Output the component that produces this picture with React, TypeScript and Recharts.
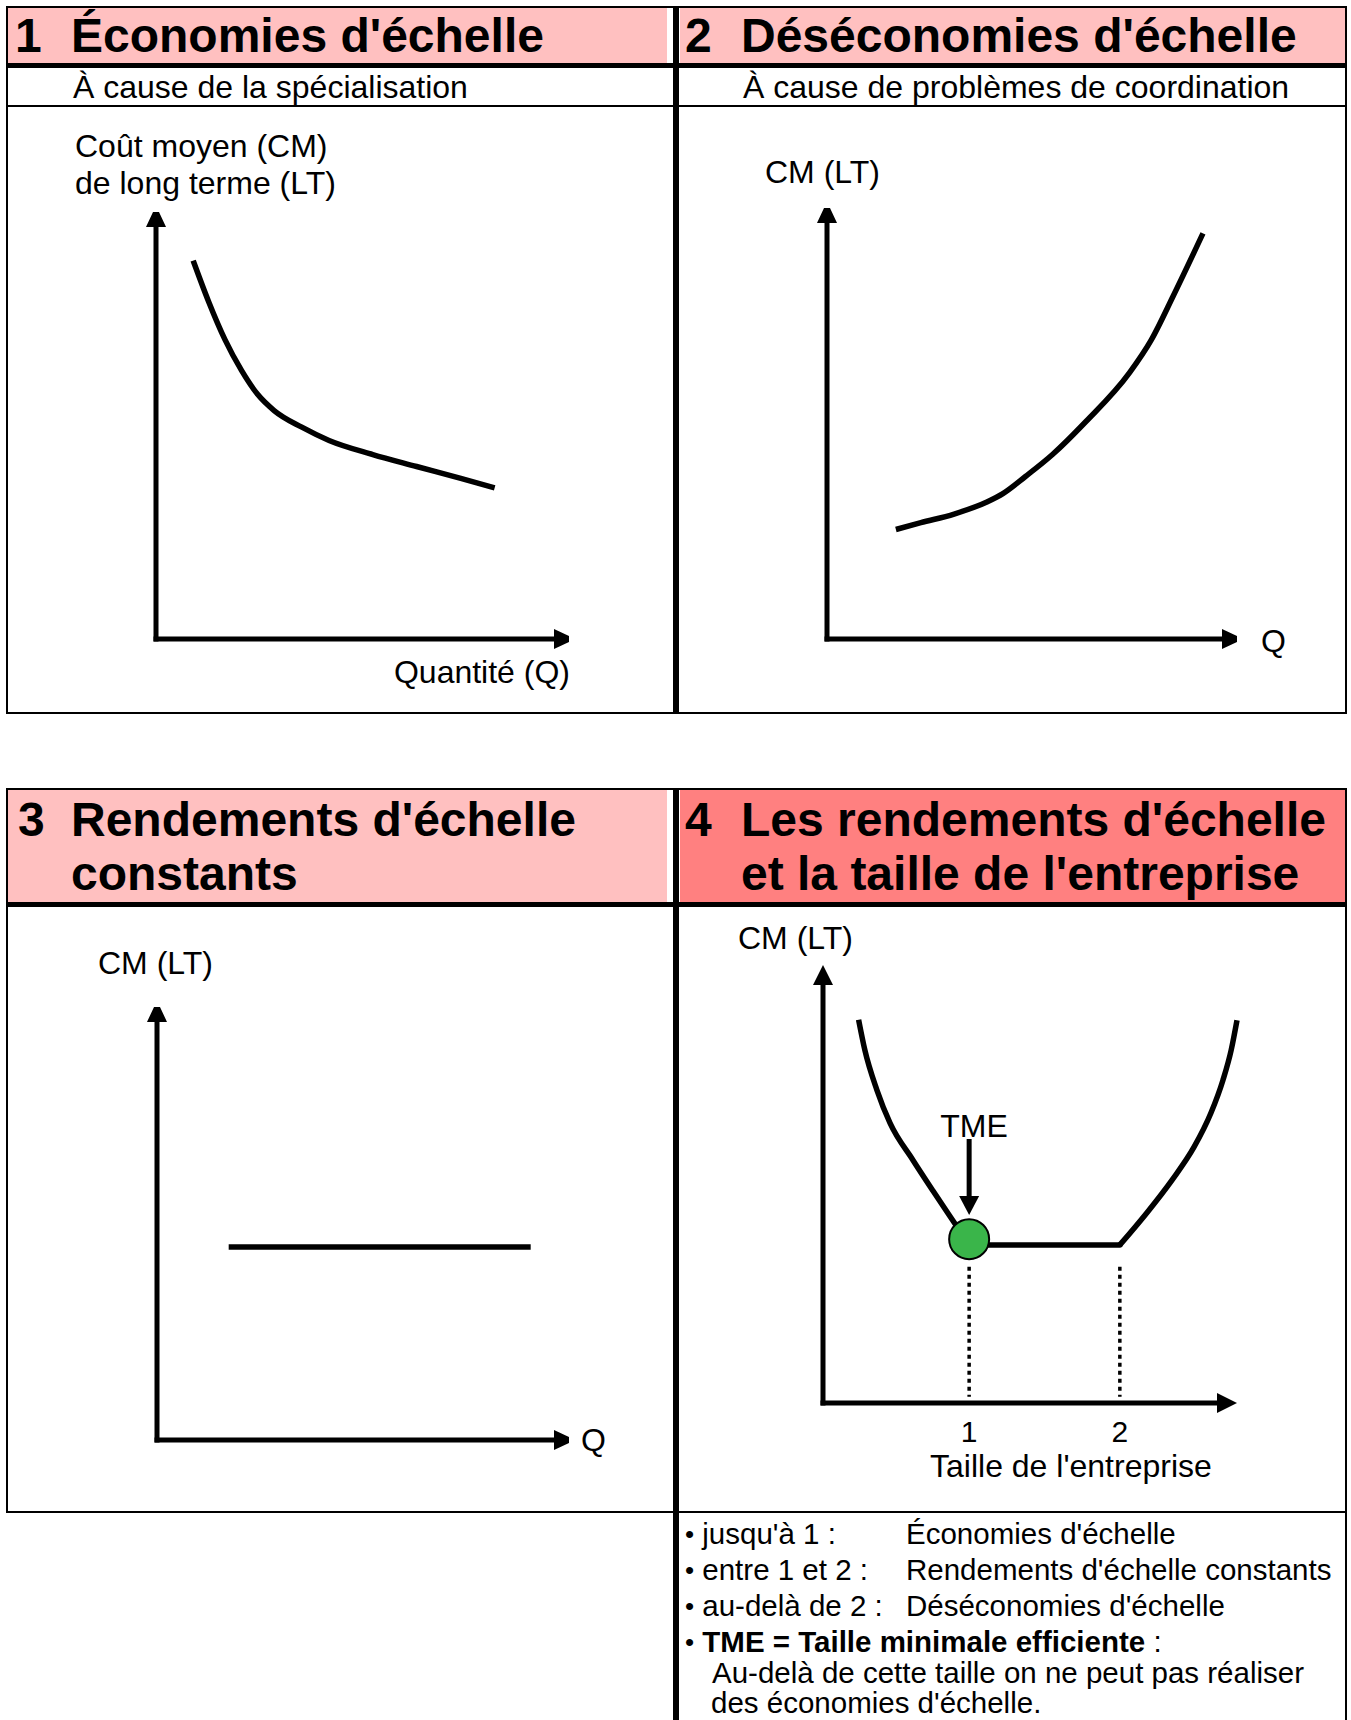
import React from "react";
import {
  LineChart,
  Line,
  XAxis,
  YAxis,
  ReferenceLine,
  ReferenceDot,
} from "recharts";

const FONT = '"Liberation Sans", Arial, Helvetica, sans-serif';

// 1 : économies d'échelle (coût moyen décroissant)
const ecoX = [0.9, 1.27, 1.67, 2.07, 2.46, 2.86, 3.53, 4.19, 5.25, 6.31, 7.38, 8.2];
const ecoY = [8.86, 7.91, 7.01, 6.29, 5.73, 5.35, 4.96, 4.65, 4.32, 4.04, 3.76, 3.54];

// 2 : déséconomies d'échelle (coût moyen croissant)
const disX = [1.68, 2.29, 3.1, 3.9, 4.3, 4.84, 5.5, 6.31, 7.38, 7.91, 8.45, 9.17];
const disY = [2.54, 2.7, 2.9, 3.18, 3.38, 3.77, 4.28, 5.04, 6.18, 6.94, 7.97, 9.41];

// 3 : rendements constants
const constX = [1.74, 9.07];
const constY = [4.46, 4.46];

// 4 : taille de l'entreprise
const leftX = [0.86, 1.01, 1.3, 1.62, 2.17, 2.66, 3.14, 3.53];
const leftY = [8.75, 8.06, 7.15, 6.39, 5.55, 4.84, 4.16, 3.61];
const flatX = [3.53, 7.17];
const flatY = [3.61, 3.61];
const rightX = [7.17, 7.82, 8.43, 8.96, 9.37, 9.66, 9.86, 10];
const rightY = [3.61, 4.34, 5.09, 5.84, 6.62, 7.37, 8.06, 8.74];
const sizeTicks = [3.53, 7.17];
const sizeLabels = ["1", "2"];
const tmeX = 3.53;
const tmeY = 3.74;

const pts = (xs: number[], ys: number[]) => xs.map((x, i) => ({ x, y: ys[i] }));

const arrow =
  (head: number, half: number, tip: number) =>
  (p: any) => {
    const { x1, y1, x2, y2, stroke, strokeWidth } = p;
    const dx = x2 - x1;
    const dy = y2 - y1;
    const len = Math.hypot(dx, dy) || 1;
    const ux = dx / len;
    const uy = dy / len;
    const bx = x2 - ux * head;
    const by = y2 - uy * head;
    const nx = -uy;
    const ny = ux;
    const poly = [
      [bx + nx * half, by + ny * half],
      [x2 + nx * tip, y2 + ny * tip],
      [x2 - nx * tip, y2 - ny * tip],
      [bx - nx * half, by - ny * half],
    ]
      .map((q) => q.join(","))
      .join(" ");
    return (
      <g>
        <line
          x1={x1}
          y1={y1}
          x2={bx}
          y2={by}
          stroke={stroke}
          strokeWidth={strokeWidth}
          strokeLinecap="square"
        />
        <polygon points={poly} fill={stroke} />
      </g>
    );
  };

const PAD = 30;
const XH = 50;

type PanelProps = {
  ox: number;
  oy: number;
  w: number;
  h: number;
  head?: number;
  ticks?: number[];
  labels?: string[];
  children?: React.ReactNode;
};

const Panel: React.FC<PanelProps> = ({ ox, oy, w, h, head = 15, ticks, labels, children }) => {
  const showX = !!ticks;
  const shape = arrow(head, 10, head > 16 ? 0 : 3);
  return (
    <div style={{ position: "absolute", left: ox - PAD, top: oy - h - PAD }}>
      <LineChart
        width={w + 2 * PAD}
        height={h + PAD + (showX ? XH : PAD)}
        margin={{ top: PAD, right: PAD, left: PAD, bottom: showX ? 0 : PAD }}
      >
        <XAxis
          type="number"
          dataKey="x"
          domain={[0, 10]}
          hide={!showX}
          ticks={ticks}
          interval={0}
          tickFormatter={(v: number, i: number) => (labels ? labels[i] : "")}
          axisLine={false}
          tickLine={false}
          tickSize={0}
          tickMargin={18}
          height={XH}
          tick={{ fill: "#000", fontSize: 30, fontFamily: FONT }}
        />
        <YAxis type="number" dataKey="y" domain={[0, 10]} hide />
        <ReferenceLine
          segment={[{ x: 0, y: 0 }, { x: 10, y: 0 }]}
          stroke="#000"
          strokeWidth={5}
          ifOverflow="visible"
          shape={shape}
        />
        <ReferenceLine
          segment={[{ x: 0, y: 0 }, { x: 0, y: 10 }]}
          stroke="#000"
          strokeWidth={5}
          ifOverflow="visible"
          shape={shape}
        />
        {children}
      </LineChart>
    </div>
  );
};

const T: React.FC<{
  x: number;
  cy: number;
  size?: number;
  anchor?: "start" | "middle" | "end";
  bold?: boolean;
  children: React.ReactNode;
}> = ({ x, cy, size = 32, anchor = "start", bold = false, children }) => {
  const style: React.CSSProperties = {
    position: "absolute",
    top: cy - size * 0.49,
    fontSize: size,
    lineHeight: `${size}px`,
    fontWeight: bold ? "bold" : "normal",
    whiteSpace: "nowrap",
    fontFamily: FONT,
    color: "#000",
  };
  if (anchor === "start") style.left = x;
  if (anchor === "end") style.right = 1351 - x;
  if (anchor === "middle") {
    style.left = x;
    style.transform = "translateX(-50%)";
  }
  return <div style={style}>{children}</div>;
};

const R: React.FC<{ l: number; t: number; w: number; h: number; c?: string }> = ({
  l,
  t,
  w,
  h,
  c = "#000",
}) => <div style={{ position: "absolute", left: l, top: t, width: w, height: h, background: c }} />;

const Dot = () => <span style={{ fontSize: 26, verticalAlign: "1px" }}>•</span>;

const curve = { stroke: "#000", strokeWidth: 5.5, dot: false, activeDot: false, isAnimationActive: false };

const App: React.FC = () => {
  return (
    <div
      style={{
        position: "absolute",
        left: 0,
        top: 0,
        width: 1351,
        height: 1720,
        background: "#fff",
        overflow: "hidden",
        fontFamily: FONT,
      }}
    >
      {/* top table */}
      <R l={8} t={8} w={659} h={55} c="#FFC0C0" />
      <R l={680} t={8} w={665} h={55} c="#FFC0C0" />
      <R l={6} t={6} w={1341} h={2} />
      <R l={6} t={6} w={2} h={708} />
      <R l={1345} t={6} w={2} h={708} />
      <R l={6} t={712} w={1341} h={2} />
      <R l={6} t={63} w={1341} h={5} />
      <R l={6} t={105} w={1341} h={2} />
      <R l={673} t={6} w={6} h={708} />

      {/* bottom table */}
      <R l={8} t={790} w={659} h={112} c="#FFC0C0" />
      <R l={680} t={790} w={665} h={112} c="#FF8080" />
      <R l={6} t={788} w={1341} h={2} />
      <R l={6} t={788} w={2} h={725} />
      <R l={1345} t={788} w={2} h={932} />
      <R l={673} t={788} w={6} h={932} />
      <R l={6} t={902} w={1341} h={5} />
      <R l={6} t={1511} w={1341} h={2} />

      {/* titles */}
      <T x={15} cy={36} size={48} bold>1</T>
      <T x={71} cy={36} size={48} bold>Économies d'échelle</T>
      <T x={685} cy={36} size={48} bold>2</T>
      <T x={741} cy={36} size={48} bold>Déséconomies d'échelle</T>
      <T x={73} cy={86.5}>À cause de la spécialisation</T>
      <T x={743} cy={86.5}>À cause de problèmes de coordination</T>

      <T x={18} cy={820} size={48} bold>3</T>
      <T x={71} cy={820} size={48} bold>Rendements d'échelle</T>
      <T x={71} cy={874} size={48} bold>constants</T>
      <T x={685} cy={820} size={48} bold>4</T>
      <T x={741} cy={820} size={48} bold>Les rendements d'échelle</T>
      <T x={741} cy={874} size={48} bold>et la taille de l'entreprise</T>

      {/* panel 1 */}
      <T x={75} cy={146}>Coût moyen (CM)</T>
      <T x={75} cy={183}>de long terme (LT)</T>
      <T x={570} cy={672} anchor="end">Quantité (Q)</T>
      <Panel ox={156} oy={639} w={413} h={427}>
        <Line data={pts(ecoX, ecoY)} dataKey="y" type="monotone" {...curve} />
      </Panel>

      {/* panel 2 */}
      <T x={765} cy={172}>CM (LT)</T>
      <T x={1261} cy={641}>Q</T>
      <Panel ox={827} oy={639} w={410} h={431}>
        <Line data={pts(disX, disY)} dataKey="y" type="monotone" {...curve} />
      </Panel>

      {/* panel 3 */}
      <T x={98} cy={963}>CM (LT)</T>
      <T x={581} cy={1440}>Q</T>
      <Panel ox={157} oy={1440} w={412} h={433}>
        <Line data={pts(constX, constY)} dataKey="y" type="linear" {...curve} />
      </Panel>

      {/* panel 4 */}
      <T x={738} cy={938}>CM (LT)</T>
      <T x={974} cy={1126} anchor="middle">TME</T>
      <T x={930} cy={1466}>Taille de l'entreprise</T>
      <Panel ox={823} oy={1403} w={414} h={438} head={20} ticks={sizeTicks} labels={sizeLabels}>
        {sizeTicks.map((t) => (
          <ReferenceLine
            key={t}
            segment={[{ x: t, y: 3.11 }, { x: t, y: 0.14 }]}
            stroke="#000"
            strokeWidth={3.5}
            strokeDasharray="4 4"
            ifOverflow="visible"
          />
        ))}
        <Line data={pts(leftX, leftY)} dataKey="y" type="monotone" {...curve} />
        <Line data={pts(flatX, flatY)} dataKey="y" type="linear" {...curve} strokeLinecap="round" />
        <Line data={pts(rightX, rightY)} dataKey="y" type="monotone" {...curve} />
        <ReferenceLine
          segment={[{ x: tmeX, y: 5.97 }, { x: tmeX, y: 4.29 }]}
          stroke="#000"
          strokeWidth={5}
          ifOverflow="visible"
          shape={arrow(19, 10, 0)}
        />
        <ReferenceDot
          x={tmeX}
          y={tmeY}
          r={20}
          fill="#3AB54A"
          stroke="#000"
          strokeWidth={2}
          ifOverflow="visible"
        />
      </Panel>

      {/* notes */}
      <T x={685} cy={1533} size={29.5}><Dot /> jusqu'à 1 :</T>
      <T x={906} cy={1533} size={29.5}>Économies d'échelle</T>
      <T x={685} cy={1569} size={29.5}><Dot /> entre 1 et 2 :</T>
      <T x={906} cy={1569} size={29.5}>Rendements d'échelle constants</T>
      <T x={685} cy={1605} size={29.5}><Dot /> au-delà de 2 :</T>
      <T x={906} cy={1605} size={29.5}>Déséconomies d'échelle</T>
      <T x={685} cy={1641.5} size={29.5}>
        <Dot /> <b>TME = Taille minimale efficiente</b> :
      </T>
      <T x={712} cy={1672} size={29.5}>Au-delà de cette taille on ne peut pas réaliser</T>
      <T x={711} cy={1702} size={29.5}>des économies d'échelle.</T>
    </div>
  );
};

export default App;
